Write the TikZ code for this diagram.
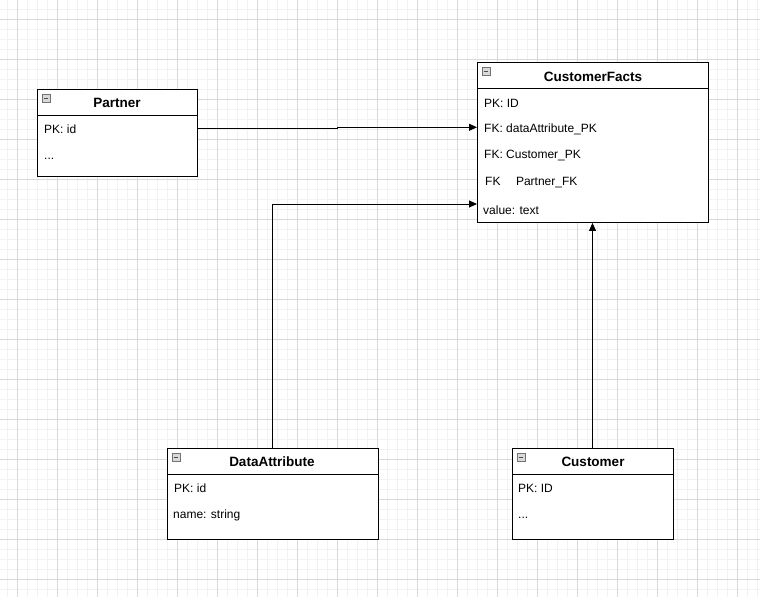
\documentclass[tikz,border=0pt]{standalone}
\usepackage{fontspec}
\setmainfont{Liberation Sans}
\usetikzlibrary{arrows.meta}
\begin{document}
\begin{tikzpicture}[x=1pt,y=-1pt,
  tbl/.style={draw=black, line width=0.9pt, fill=white, anchor=north west, inner sep=0pt},
  hdr/.style={font=\bfseries\fontsize{13.5}{15}\selectfont, anchor=base, inner sep=0pt},
  fld/.style={font=\fontsize{12}{14}\selectfont, anchor=base west, inner sep=0pt},
  icon/.style={draw=black!55, fill=black!15, line width=0.6pt, minimum size=8pt, inner sep=0pt, anchor=north west},
  conn/.style={draw=black, line width=0.9pt, -{Triangle[length=8pt,width=7pt]}},
  line/.style={draw=black, line width=0.9pt},
]
% background + grid
\fill[white] (0,0) rectangle (760,597);
\useasboundingbox (0,0) rectangle (760,597);
\foreach \x in {7,17,...,757} \draw[black!5, line width=0.8pt] (\x,0) -- (\x,597);
\foreach \y in {9,19,...,597} \draw[black!5, line width=0.8pt] (0,\y) -- (760,\y);
\foreach \x in {17,57,...,757} \draw[black!15, line width=0.8pt] (\x,0) -- (\x,597);
\foreach \y in {19,59,...,597} \draw[black!15, line width=0.8pt] (0,\y) -- (760,\y);

% Partner
\node[tbl, minimum width=160pt, minimum height=87pt] (partner) at (37,89) {};
\draw[line] (37,115) -- (197,115);
\node[hdr] (partnerh) at (117,107) {Partner};
\node[fld] (partner1) at (44,133) {PK: id};
\node[fld] (partner2) at (44,159) {...};

% CustomerFacts
\node[tbl, minimum width=231pt, minimum height=160pt] (cf) at (477,62) {};
\draw[line] (477,88) -- (708,88);
\node[hdr] (cfh) at (593,81) {CustomerFacts};
\node[fld] (cf1) at (484,107) {PK: ID};
\node[fld] (cf2) at (484,132.5) {FK: dataAttribute\_PK};
\node[fld] (cf3) at (484,158.5) {FK: Customer\_PK};
\node[fld] (cf4) at (485,185.5) {FK\hspace{15.5pt}Partner\_FK};
\node[fld] (cf5) at (483,214) {value: text};

% DataAttribute
\node[tbl, minimum width=211pt, minimum height=91pt] (da) at (167,448) {};
\draw[line] (167,474) -- (378,474);
\node[hdr] (dah) at (272,466) {DataAttribute};
\node[fld] (da1) at (174,492) {PK: id};
\node[fld] (da2) at (173,518) {name: string};

% Customer
\node[tbl, minimum width=161pt, minimum height=91pt] (cu) at (512,448) {};
\draw[line] (512,474) -- (673,474);
\node[hdr] (cuh) at (593,466) {Customer};
\node[fld] (cu1) at (518,492) {PK: ID};
\node[fld] (cu2) at (518,518) {...};

% collapse icons
\foreach \n/\x/\y in {ip/42/94, icf/482/67, ida/172/453, icu/517/453}{
  \node[icon] (\n) at (\x,\y) {};
  \draw[black!70, line width=0.9pt] (\x+2,\y+4) -- (\x+6,\y+4);
}

% connectors
\coordinate (p1) at (partner.east |- 0,128);
\coordinate (p2) at (337.5,128);
\coordinate (p3) at (337.5,127.3);
\coordinate (p4) at (cf.west |- 0,127.3);
\draw[line] (p1) -- (p2) -- (p3);
\draw[conn] (p3) -- (p4);

\coordinate (d1) at (272,448);
\coordinate (d2) at (272,204);
\coordinate (d3) at (cf.west |- 0,204);
\draw[conn] (da.north -| d1) -- (d2) -- (d3);

\draw[conn] (cu.north -| 592.5,0) -- (cf.south -| 592.5,0);
\end{tikzpicture}
\end{document}
